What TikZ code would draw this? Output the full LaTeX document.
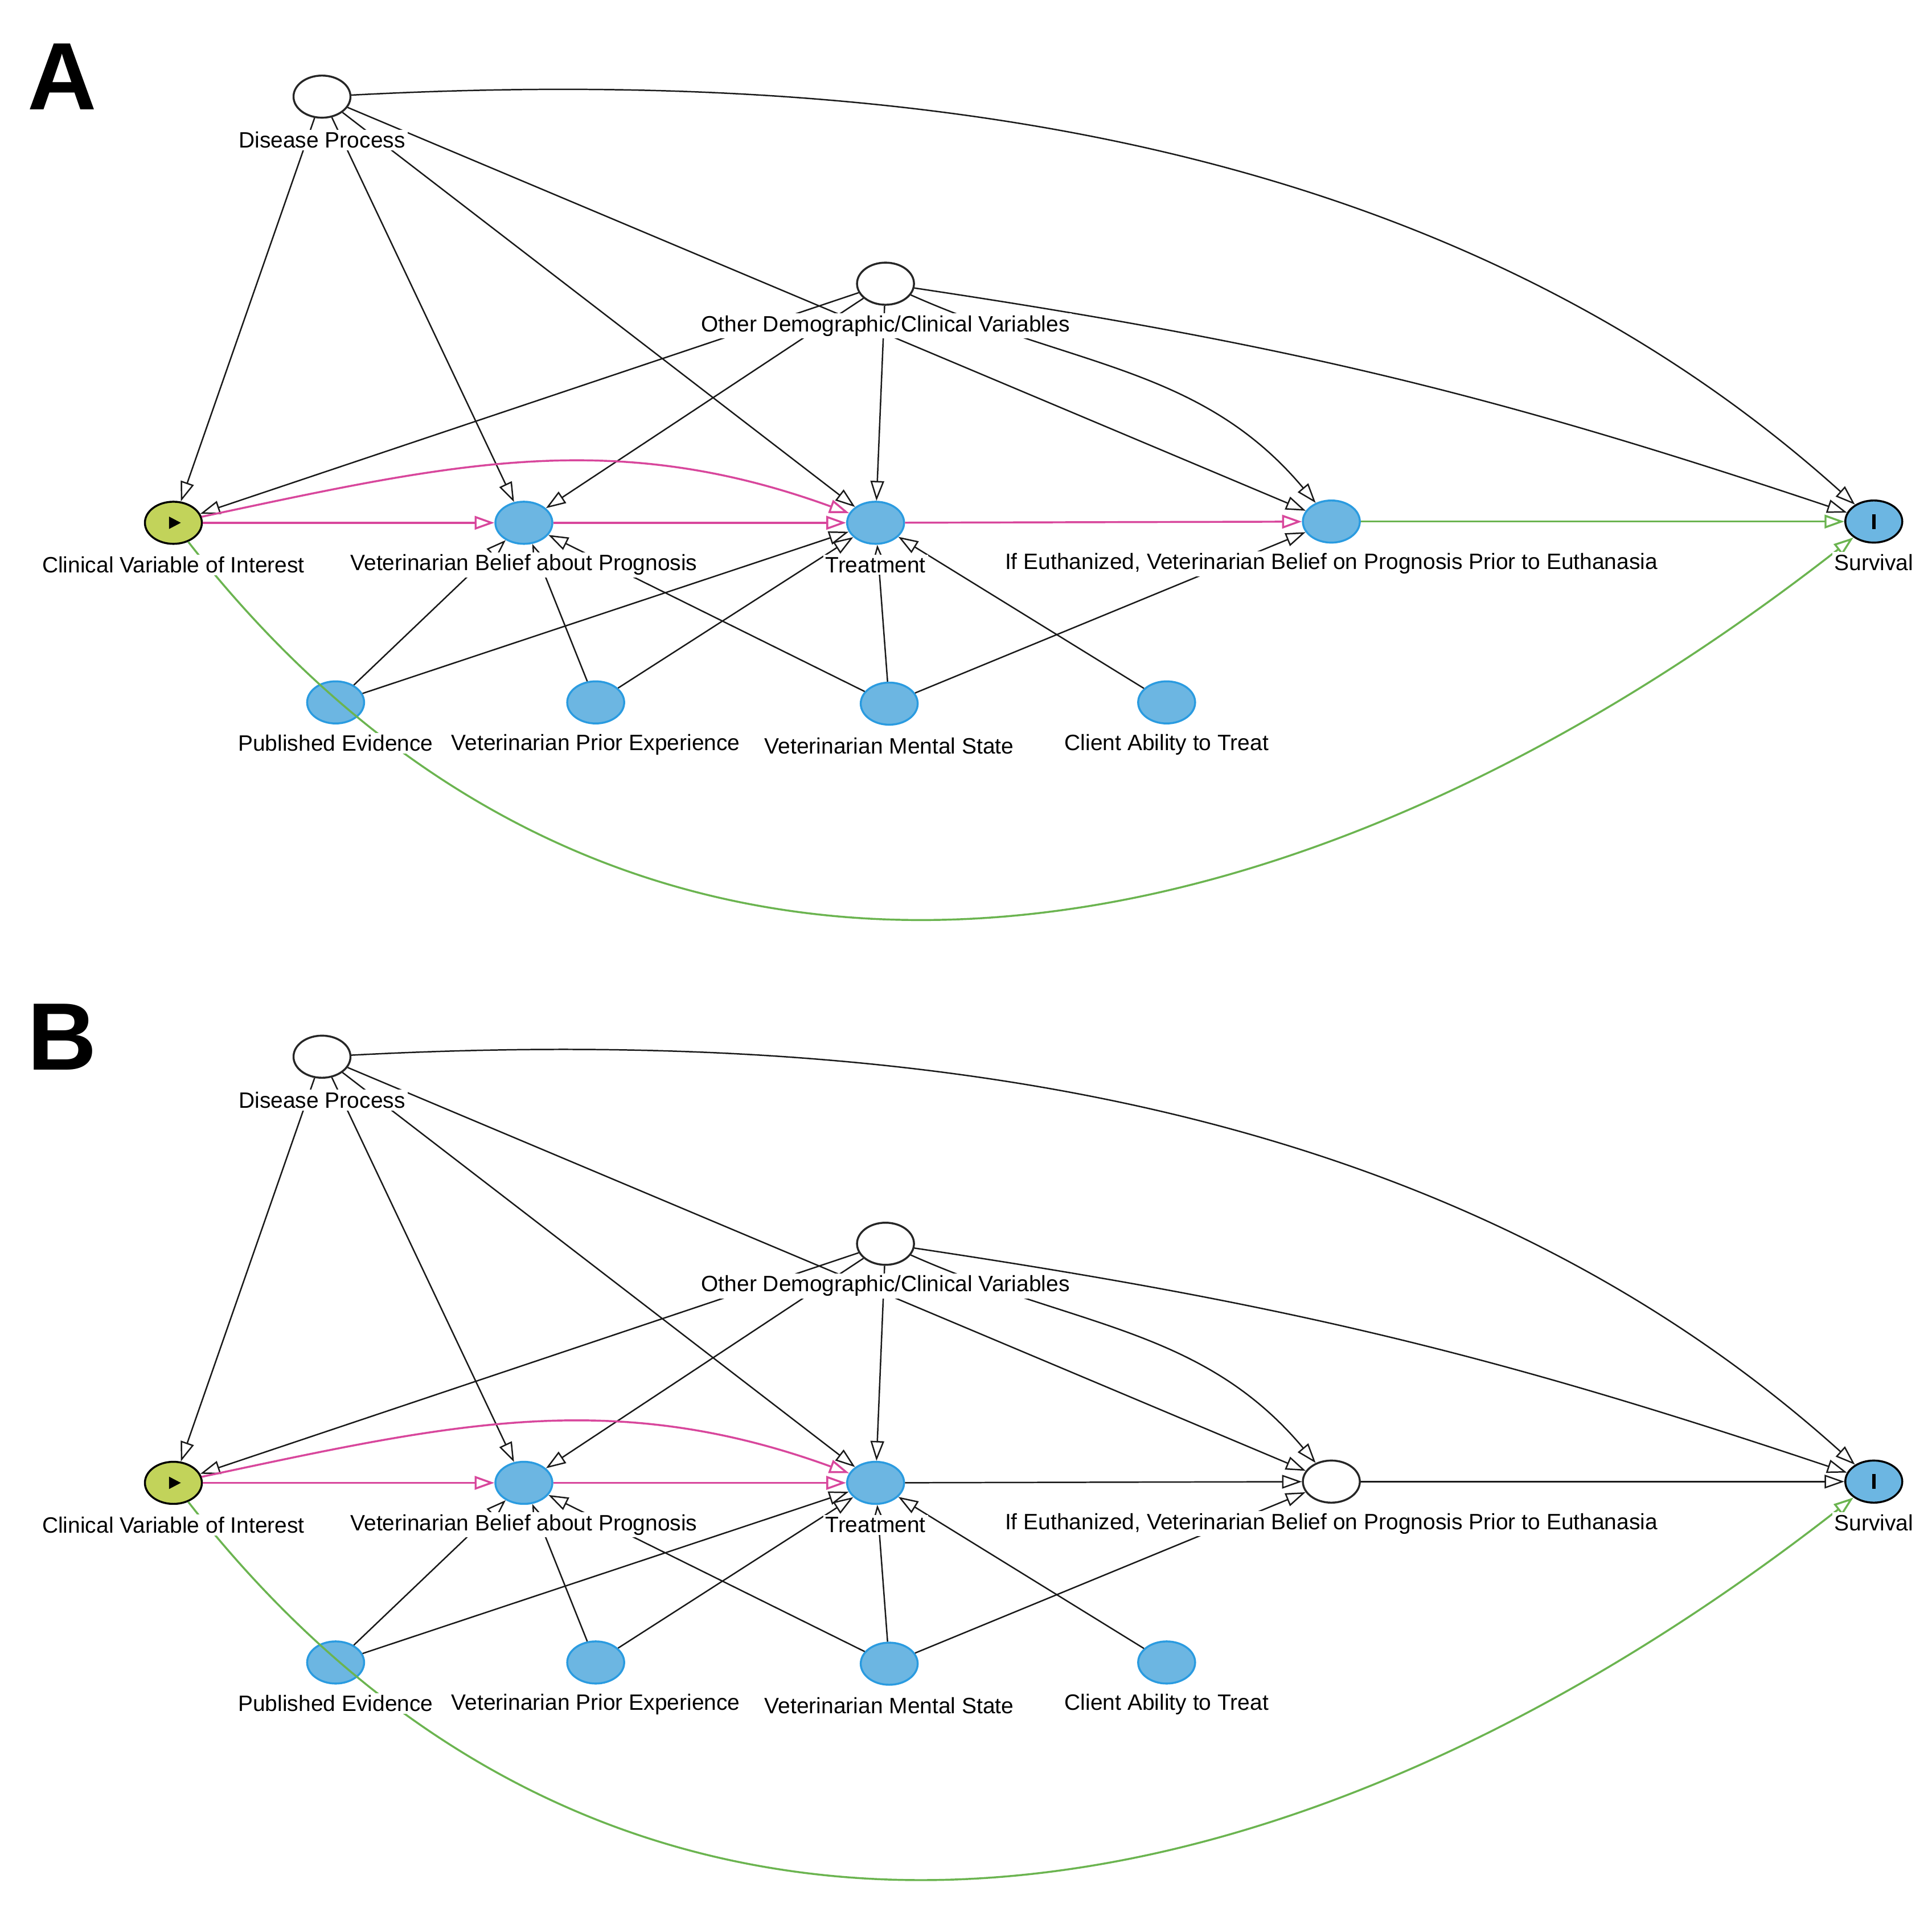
\documentclass[tikz,border=0pt]{standalone}
\usepackage{fontspec}
\setmainfont{Liberation Sans}
\usepackage{xcolor}
\usetikzlibrary{shapes,arrows.meta,positioning,shapes.geometric}

\definecolor{fillblue}{HTML}{6CB6E2}
\definecolor{lineblue}{HTML}{2A9BE0}
\definecolor{expgreen}{HTML}{C2D35A}
\definecolor{pathpink}{HTML}{D8479C}
\definecolor{pathgreen}{HTML}{6BB450}

\tikzset{
    dnode/.style={ellipse, line width=0.9pt, minimum width=0.92cm, minimum height=0.68cm, inner sep=0pt},
    latent/.style={dnode, draw=black!85, fill=white},
    adj/.style={dnode, draw=lineblue, fill=fillblue},
    expo/.style={dnode, draw=black, fill=expgreen},
    outc/.style={dnode, draw=black, fill=fillblue},
    lbl/.style={fill=white, inner sep=1pt, font=\fontsize{10.2}{12}\selectfont},
    edge/.style={-{Triangle[open,length=3.2mm,width=2.2mm]}, line width=0.65pt, draw=black!90},
    causal/.style={edge, draw=pathpink, line width=0.9pt},
    biased/.style={edge, draw=pathgreen, line width=0.9pt},
    letter/.style={font=\fontsize{44}{44}\selectfont\bfseries}
}

% one DAG panel: #1 suffix, #2 y offset, #3 panel letter, #4 style of euthanasia node,
% #5 treatment->euthanasia edge, #6 euthanasia->survival edge
\newcommand\dagpanel[6]{%
\begin{scope}[shift={(0,#2)}]
    \node[letter] (L#1) at (50,62) {#3};

    % nodes
    \node[latent] (DP#1) at (260,78) {};
    \node[latent] (OD#1) at (715,229) {};
    \node[expo] (CV#1) at (140,422) {};
    \node[adj] (VB#1) at (423,422) {};
    \node[adj] (TR#1) at (707,422) {};
    \node[#4] (EU#1) at (1075,421) {};
    \node[outc] (SU#1) at (1513,421) {};
    \node[adj] (PE#1) at (271,567) {};
    \node[adj] (PX#1) at (481,567) {};
    \node[adj] (MS#1) at (718,568) {};
    \node[adj] (CA#1) at (942,567) {};

    % node marks
    \fill ([xshift=-0.07cm,yshift=0.1cm]CV#1.center) -- ++(0.19cm,-0.1cm) -- ++(-0.19cm,-0.1cm) -- cycle;
    \draw[line width=1.6pt] ([yshift=0.12cm]SU#1.center) -- ([yshift=-0.12cm]SU#1.center);

    % edges from disease process
    \draw[edge] (DP#1) to[out=3, in=138, looseness=0.9] (SU#1);
    \draw[edge] (DP#1) -- (EU#1);
    \draw[edge] (DP#1) -- (CV#1);
    \draw[edge] (DP#1) -- (VB#1);
    \draw[edge] (DP#1) -- (TR#1);

    % edges from other variables
    \draw[edge] (OD#1) to[bend left=5] (SU#1);
    \draw[edge] (OD#1) to[out=-24, in=130] (EU#1);
    \draw[edge] (OD#1) -- (CV#1);
    \draw[edge] (OD#1) -- (VB#1);
    \draw[edge] (OD#1) -- (TR#1);

    % lower row
    \draw[edge] (PE#1) -- (VB#1);
    \draw[edge] (PE#1) -- (TR#1);
    \draw[edge] (PX#1) -- (VB#1);
    \draw[edge] (PX#1) -- (TR#1);
    \draw[edge] (MS#1) -- (VB#1);
    \draw[edge] (MS#1) -- (TR#1);
    \draw[edge] (MS#1) -- (EU#1);
    \draw[edge] (CA#1) -- (TR#1);

    % causal and biasing paths
    \draw[causal] (CV#1) -- (VB#1);
    \draw[causal] (CV#1) to[out=12, in=160] (TR#1);
    \draw[causal] (VB#1) -- (TR#1);
    \draw[#5] (TR#1) -- (EU#1);
    \draw[#6] (EU#1) -- (SU#1);
    \draw[biased] (CV#1) to[out=-52, in=-142, looseness=1.1] (SU#1);

    % labels
    \node[lbl] at (260,113) {Disease Process};
    \node[lbl] at (715,263) {Other Demographic/Clinical Variables};
    \node[lbl] at (140,456) {Clinical Variable of Interest};
    \node[lbl] at (423,456) {Veterinarian Belief about Prognosis};
    \node[lbl] at (707,456) {Treatment};
    \node[lbl] at (1075,455) {If Euthanized, Veterinarian Belief on Prognosis Prior to Euthanasia};
    \node[lbl] at (1513,454) {Survival};
    \node[lbl] at (271,600) {Published Evidence};
    \node[lbl] at (481,601) {Veterinarian Prior Experience};
    \node[lbl] at (718,602) {Veterinarian Mental State};
    \node[lbl] at (942,601) {Client Ability to Treat};
\end{scope}}

\begin{document}
\begin{tikzpicture}[x=0.02cm, y=-0.02cm]
    \useasboundingbox (0,0) rectangle (1560,1543);

    \dagpanel{a}{0}{A}{adj}{causal}{biased}
    \dagpanel{b}{775}{B}{latent}{edge}{edge}
\end{tikzpicture}
\end{document}
